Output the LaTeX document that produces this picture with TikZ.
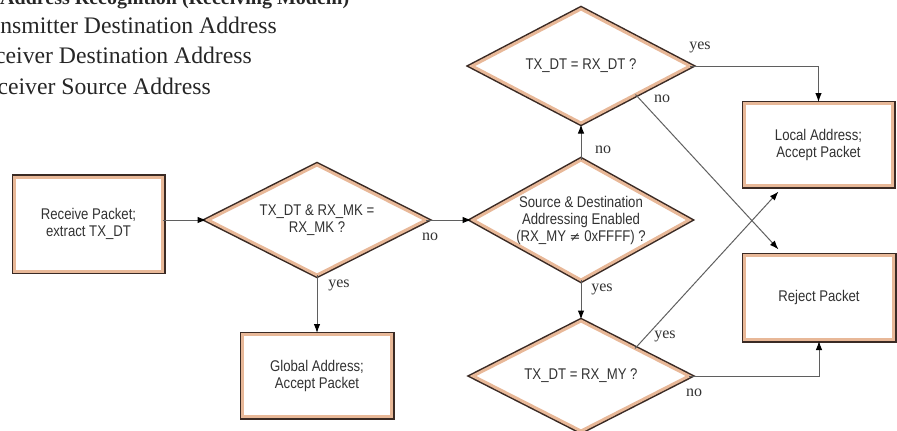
\documentclass[tikz,border=0pt]{standalone}
\usepackage{fontspec}
\setmainfont{Liberation Serif}
\newfontfamily\boxfont[FakeStretch=0.85]{Liberation Sans}
\usetikzlibrary{arrows.meta,calc,backgrounds}
\definecolor{boxdark}{RGB}{58,42,36}
\definecolor{peach}{RGB}{232,184,152}
\definecolor{linegray}{RGB}{95,95,95}
\definecolor{txtgray}{RGB}{50,50,50}
\begin{document}
\begin{tikzpicture}[x=1pt,y=-1pt,
  outline/.style={fill=white, draw=peach, line width=3pt, line join=miter,
    preaction={draw=boxdark, line width=6pt, line join=miter}},
  textbase/.style={outer sep=0pt, inner sep=0pt,
    font=\boxfont\fontsize{15.5}{17}\selectfont, text=txtgray, align=center},
  procbox/.style={textbase, outline, rectangle},
  decision/.style={textbase, rectangle},
  conn/.style={draw=linegray, line width=1pt},
  arr/.style={conn, shorten >=1.5pt, -{Latex[length=9pt,width=6.5pt,color=black]}},
  lbl/.style={font=\fontsize{16}{18}\selectfont, text=txtgray, inner sep=0pt},
  captionline/.style={font=\fontsize{23.7}{28}\selectfont, text=black!85, inner sep=0pt, anchor=base east}]

\useasboundingbox (0,0) rectangle (897,431);

% caption (clipped at the page edge, as in the reference)
\node[font=\bfseries\fontsize{20}{24}\selectfont, text=black!85, inner sep=0pt, anchor=base west] (t0) at (0,5) {Address Recognition (Receiving Modem)};
\node[captionline] (t1) at (277,33) {nsmitter Destination Address};
\node[captionline] (t2) at (252,63) {ceiver Destination Address};
\node[captionline] (t3) at (211,94) {ceiver Source Address};

% shapes
\node[procbox, minimum width=148, minimum height=94] (rp) at (88.5,224) {Receive Packet;\\extract TX\_DT};
\node[decision, minimum width=218, minimum height=110] (d1) at (317,220) {TX\_DT \& RX\_MK =\\RX\_MK ?};
\node[procbox, minimum width=149, minimum height=82] (ga) at (317,375.5) {Global Address;\\Accept Packet};
\node[decision, minimum width=216, minimum height=120] (d2) at (581,220) {Source \& Destination\\Addressing Enabled\\(RX\_MY {\fontspec{DejaVu Sans}\fontsize{13}{17}\selectfont ≠} 0xFFFF) ?};
\node[decision, minimum width=218, minimum height=114] (d3) at (581,66) {TX\_DT = RX\_DT ?};
\node[decision, minimum width=216, minimum height=110] (d4) at (581,376) {TX\_DT = RX\_MY ?};
\node[procbox, minimum width=148, minimum height=82] (la) at (818.5,144.5) {Local Address;\\Accept Packet};
\node[procbox, minimum width=149, minimum height=84] (rj) at (819,297.5) {Reject Packet};

% diamond outlines behind the decision texts
\begin{scope}[on background layer]
  \foreach \d in {d1,d2,d3,d4}{
    \path[outline] (\d.west) -- (\d.north) -- (\d.east) -- (\d.south) -- cycle;
  }
\end{scope}

% connectors
\draw[arr] (rp.east |- d1.west) -- (d1.west);
\draw[arr] (d1.east) -- (d2.west);
\draw[arr] (d1.south) -- (ga.north);
\draw[arr] (d2.north) -- (d3.south);
\draw[arr] (d2.south) -- (d4.north);
\draw[arr] (d3.east) -| (la.north);
\draw[arr] (d4.east) -| (rj.south);
\coordinate (d3se) at ($(d3.east)!0.5!(d3.south)$);
\coordinate (rjin) at ($(rj.north west)+(35,-5)$);
\draw[arr] (d3se) -- (rjin);
\coordinate (d4ne) at ($(d4.north)!0.5!(d4.east)$);
\coordinate (lain) at ($(la.south west)+(35,5)$);
\draw[arr] (d4ne) -- (lain);

% labels
\node[lbl] (l1) at (430,237) {no};
\node[lbl] (l2) at (339,285) {yes};
\node[lbl] (l3) at (603,150) {no};
\node[lbl] (l4) at (602,289) {yes};
\node[lbl] (l5) at (700,47) {yes};
\node[lbl] (l6) at (662,99) {no};
\node[lbl] (l7) at (665,336) {yes};
\node[lbl] (l8) at (694,393) {no};
\end{tikzpicture}
\end{document}
